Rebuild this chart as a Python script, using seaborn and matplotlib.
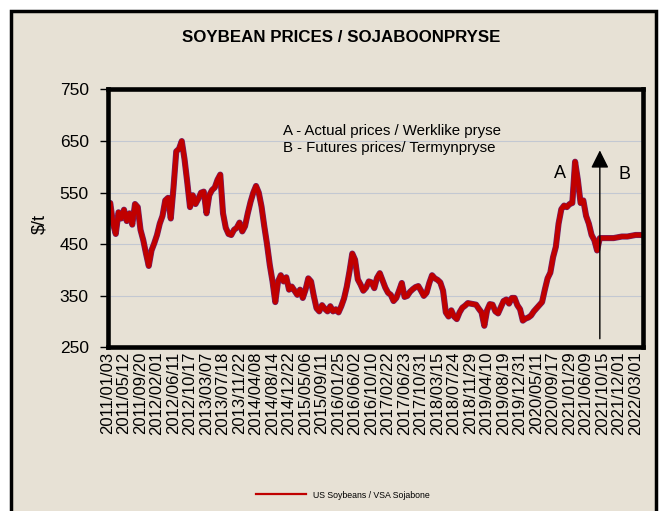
import numpy as np
import pandas as pd
import seaborn as sns
import matplotlib.pyplot as plt
import matplotlib.patheffects as pe
from matplotlib.lines import Line2D
from matplotlib.patches import Rectangle

# Soybean prices ($/t) (one value per ~1/6 label interval)
actual_prices = [
    515, 530, 490, 470, 512, 500, 517, 495, 510, 488,
    528, 522, 478, 458, 432, 408, 438, 452, 468, 490,
    505, 535, 540, 500, 560, 630, 635, 650, 615, 570,
    522, 545, 528, 538, 550, 552, 510, 545, 555, 560,
    575, 585, 510, 482, 470, 468, 478, 482, 492, 475,
    485, 510, 532, 550, 563, 550, 523, 485, 450, 410,
    378, 338, 378, 390, 378, 386, 362, 368, 360, 352,
    362, 346, 362, 384, 378, 350, 326, 320, 332, 325,
    320, 330, 320, 324, 318, 330, 345, 368, 398, 432,
    420, 382, 372, 360, 366, 378, 376, 365, 385, 394,
    380, 366, 356, 352, 340, 346, 360, 375, 348, 350,
    358, 363, 367, 369, 360, 350, 356, 375, 390, 384,
    381, 376, 360, 318, 310, 322, 310, 305, 318, 327,
    331, 336, 335, 334, 333, 325, 318, 292, 322, 334,
    333, 320, 316, 328, 340, 343, 335, 346, 346, 332,
    324, 302, 306, 308, 312, 320, 326, 332, 338, 362,
    384, 395, 425, 445, 490, 518, 525, 522, 528, 530,
    610, 575, 530, 535, 505, 490, 468, 458, 438,
]
futures_prices = [462, 462, 462, 462, 462, 462, 463, 464, 465, 465,
                  465, 466, 467, 468, 468, 468, 467]

tick_labels = [
    '2011/01/03', '2011/05/12', '2011/09/20', '2012/02/01', '2012/06/11',
    '2012/10/17', '2013/03/07', '2013/07/18', '2013/11/22', '2014/04/08',
    '2014/08/14', '2014/12/22', '2015/05/06', '2015/09/11', '2016/01/25',
    '2016/06/02', '2016/10/10', '2017/02/22', '2017/06/23', '2017/10/31',
    '2018/03/15', '2018/07/24', '2018/11/29', '2019/04/10', '2019/08/19',
    '2019/12/31', '2020/05/11', '2020/09/17', '2021/01/29', '2021/06/09',
    '2021/10/15', '2021/12/01', '2022/03/01',
]

prices = actual_prices + futures_prices
df = pd.DataFrame({'pos': range(len(prices)), 'price': prices})
split = len(actual_prices)

bg = '#e7e1d5'
red = '#c00000'
plt.rcParams['font.family'] = ['Liberation Sans', 'DejaVu Sans']

fig = plt.figure(figsize=(6.64, 5.11), dpi=100, facecolor='white')
# outer frame
fig.patches.append(Rectangle((11 / 664, -0.05), (656 - 11) / 664, 1.05 - 11 / 511,
                             transform=fig.transFigure, facecolor=bg,
                             edgecolor='black', linewidth=2.5, zorder=-1))

ax = fig.add_axes([0.1619, 0.3200, 0.8065, 0.5049])
ax.set_facecolor(bg)

sns.lineplot(data=df, x='pos', y='price', ax=ax, color=red, linewidth=3.5,
             path_effects=[pe.Stroke(linewidth=4.4, foreground='#6b2470'), pe.Normal()])

ax.set_ylim(250, 750)
ax.set_yticks(range(250, 751, 100))
ax.set_xlim(0, 194.7)
ax.set_xticks(np.arange(len(tick_labels)) * 6)
ax.set_xticklabels(tick_labels, rotation=90)
ax.grid(axis='y', color='#c3c8d2', linewidth=0.8)
ax.set_axisbelow(True)
for s in ax.spines.values():
    s.set_linewidth(3.3)
    s.set_color('black')

ax.tick_params(axis='x', length=0, pad=3, labelsize=12)
ax.tick_params(axis='y', length=5.5, width=1, pad=8, labelsize=12.5)
ax.set_xlabel('')
ax.set_ylabel('$/t', fontsize=13)
ax.yaxis.set_label_coords(-0.11, 0.48)

# notes
ax.text(63.8, 670, 'A - Actual prices / Werklike pryse', fontsize=10.8, va='center')
ax.text(63.8, 636, 'B - Futures prices/ Termynpryse', fontsize=10.8, va='center')
ax.text(164.5, 587, 'A', fontsize=13, ha='center', va='center')
ax.text(187.8, 585, 'B', fontsize=13, ha='center', va='center')
ax.annotate('', xy=(split, 632), xytext=(split, 267),
            arrowprops=dict(arrowstyle='-|>,head_length=0.4,head_width=0.2',
                            color='black', lw=1, mutation_scale=27,
                            shrinkA=0, shrinkB=0))

fig.text(341 / 664, 1 - 37 / 511, 'SOYBEAN PRICES / SOJABOONPRYSE',
         ha='center', va='center', fontsize=12.2, fontweight='bold')

fig.legend(handles=[Line2D([], [], color=red, lw=1.6)],
           labels=['US Soybeans / VSA Sojabone'], loc='center',
           bbox_to_anchor=(343 / 664, 16 / 511), frameon=False,
           handlelength=5.7, prop={'size': 6.3})

fig.savefig('out.png', dpi=100, facecolor='white')
